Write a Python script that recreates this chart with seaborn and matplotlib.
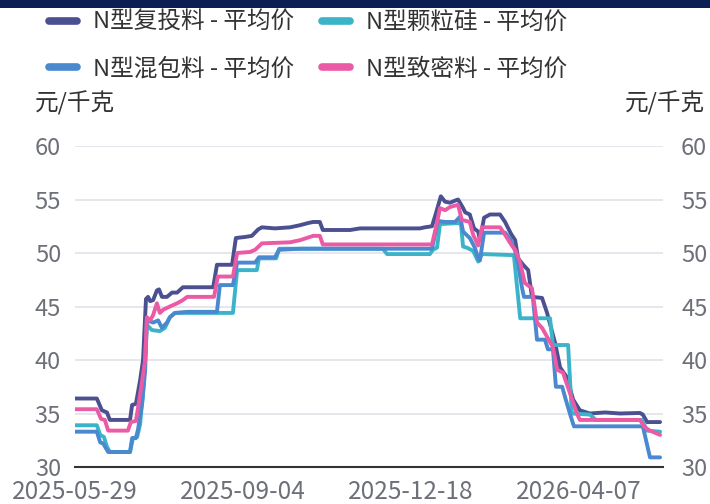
import matplotlib
matplotlib.use("Agg")
import matplotlib.pyplot as plt
from matplotlib.lines import Line2D
from matplotlib.patches import Rectangle
import seaborn as sns
import pandas as pd

# ---- data (x = trading-day index on a category axis) ----
series_names = ["N型复投料 - 平均价", "N型颗粒硅 - 平均价", "N型混包料 - 平均价", "N型致密料 - 平均价"]
colors = ["#4B5090", "#3BB4C9", "#4A88CF", "#EA5AA5"]

tick_labels = ["2025-05-29", "2025-09-04", "2025-12-18", "2026-04-07"]
tick_idx = [0, 40, 80, 120]
x_end = 140

futou_x = [0, 5.2, 6.4, 7.6, 8.3, 13.1, 13.6, 14.5, 15.5, 16.2, 16.9, 17.4, 17.9, 18.6, 19.5, 20.0,
           20.7, 21.9, 23.1, 24.3, 25.7, 32.9, 33.8, 37.4, 38.3, 40.5, 42.1, 43.6, 44.5, 47.6, 51.2,
           53.6, 55.5, 56.7, 58.3, 59.0, 65.5, 67.9, 82.1, 83.3, 85.0, 86.0, 87.1, 88.1, 89.3, 90.5,
           91.2, 92.4, 92.9, 94.0, 95.0, 96.0, 96.4, 97.4, 98.8, 101.2, 102.4, 103.8, 104.8, 105.5,
           106.7, 107.9, 108.8, 111.2, 112.4, 114.3, 115.5, 117.1, 118.6, 120.2, 122.6, 126.2, 129.8,
           134.5, 135.2, 136.2, 139.3]
futou_y = [36.4, 36.4, 35.3, 35.1, 34.4, 34.4, 35.8, 35.9, 38.1, 40.0, 45.7, 45.9, 45.5, 45.6, 46.5, 46.6,
           45.9, 45.9, 46.3, 46.3, 46.8, 46.8, 48.9, 48.9, 51.4, 51.5, 51.6, 52.2, 52.4, 52.3, 52.4,
           52.6, 52.8, 52.9, 52.9, 52.15, 52.15, 52.3, 52.3, 52.4, 52.5, 53.8, 55.3, 54.8, 54.7, 54.9,
           55.0, 54.2, 53.8, 53.6, 52.3, 52.0, 51.2, 53.3, 53.6, 53.6, 52.9, 51.8, 51.2, 49.5,
           48.9, 48.4, 45.9, 45.8, 44.4, 41.6, 39.3, 38.4, 36.3, 35.3, 35.0, 35.1, 35.0,
           35.05, 34.9, 34.2, 34.2]

keli_x = [0, 5.2, 6.0, 6.9, 7.6, 8.3, 13.1, 13.8, 14.8, 15.5, 16.2, 16.7, 17.1, 18.3, 20.2, 21.4, 22.6,
          23.8, 37.6, 38.6, 43.3, 43.8, 47.9, 48.6, 73.3, 74.3, 84.5, 85.2, 86.2, 86.9, 91.2, 91.9,
          92.4, 93.3, 94.8, 96.0, 96.9, 104.5, 106.0, 113.1, 113.8, 117.4, 118.3, 122.6, 124.0, 135.0,
          136.2, 139.3]
keli_y = [33.9, 33.9, 33.0, 32.8, 31.9, 31.4, 31.4, 32.7, 32.8, 34.0, 37.0, 40.0, 43.3, 42.8, 42.7, 43.0, 44.0,
          44.4, 44.4, 48.4, 48.4, 49.5, 49.5, 50.4, 50.4, 49.9, 49.9, 50.3, 50.5, 52.7, 52.8, 52.7,
          50.6, 50.5, 50.2, 49.2, 49.9, 49.8, 43.9, 43.9, 41.4, 41.4, 35.0, 34.9, 34.4, 34.4,
          33.4, 33.3]

hunbao_x = [0, 5.2, 6.0, 6.7, 7.9, 13.1, 13.6, 14.5, 15.0, 16.0, 16.7, 17.1, 18.6, 19.8, 20.7, 21.9, 22.6,
            23.8, 26.7, 33.8, 34.5, 37.6, 38.6, 42.9, 43.8, 47.6, 48.6, 53.6, 56.0, 85.0, 86.4, 88.1,
            90.5, 91.7, 92.4, 94.0, 95.2, 96.0, 96.4, 97.4, 102.4, 103.6, 104.8, 105.5, 106.4, 106.9,
            109.0, 110.0, 111.9, 112.6, 113.8, 114.5, 116.0, 116.7, 117.9, 118.8, 135.2, 136.9, 139.3]
hunbao_y = [33.3, 33.3, 32.3, 32.2, 31.4, 31.4, 32.7, 32.7, 33.5, 36.0, 39.0, 43.7, 43.5, 43.7, 43.0, 43.5, 44.0,
            44.4, 44.5, 44.5, 47.0, 47.0, 49.1, 49.1, 49.6, 49.6, 50.3, 50.4, 50.4, 50.4, 53.0, 52.9,
            52.9, 53.4, 52.0, 51.4, 50.5, 49.5, 49.3, 51.9, 51.9, 51.3, 50.2, 49.0, 46.8, 45.9,
            45.9, 41.9, 41.9, 41.0, 41.0, 37.5, 37.5, 36.5, 34.9, 33.8, 33.8, 30.9, 30.9]

zhimi_x = [0, 5.2, 6.2, 7.1, 7.9, 12.6, 13.3, 14.5, 15.0, 16.0, 16.7, 17.1, 17.9, 18.6, 19.5, 20.2, 21.0,
           22.6, 24.3, 25.7, 26.7, 33.1, 34.0, 37.6, 38.6, 41.7, 42.9, 44.5, 51.2, 53.6, 56.7, 58.3,
           59.0, 85.0, 86.0, 86.9, 88.1, 89.3, 91.2, 92.1, 94.0, 94.8, 96.0, 96.9, 101.2, 102.4,
           104.0, 104.8, 106.0, 107.1, 108.8, 110.0, 111.2, 113.8, 114.8, 116.2, 119.5, 120.2, 134.5,
           135.7, 136.9, 139.3]
zhimi_y = [35.4, 35.4, 34.5, 34.4, 33.4, 33.4, 34.2, 34.3, 35.5, 38.1, 40.0, 44.0, 43.7, 44.2, 45.3, 44.4, 44.7,
           45.0, 45.3, 45.6, 45.9, 45.9, 47.8, 47.8, 50.0, 50.1, 50.3, 50.9, 51.0, 51.2, 51.6, 51.6,
           50.8, 50.8, 52.5, 54.2, 54.0, 54.3, 54.5, 53.1, 52.9, 51.7, 50.7, 52.4, 52.4, 51.7,
           50.7, 50.3, 49.1, 47.2, 46.7, 43.5, 43.0, 41.2, 39.1, 38.8, 35.0, 34.4, 34.4,
           33.7, 33.4, 33.0]

frames = []
for name, xs, ys in zip(series_names,
                        [futou_x, keli_x, hunbao_x, zhimi_x],
                        [futou_y, keli_y, hunbao_y, zhimi_y]):
    frames.append(pd.DataFrame({"x": xs, "price": ys, "series": name}))
df = pd.concat(frames, ignore_index=True)

# ---- style ----
sns.set_theme(style="white")
plt.rcParams["font.family"] = ["Noto Sans CJK SC", "DejaVu Sans"]

fig = plt.figure(figsize=(7.1, 5.04), dpi=100)
fig.patch.set_facecolor("white")
fig.patches.append(Rectangle((0, 1 - 8 / 504), 1, 8 / 504, transform=fig.transFigure,
                             facecolor="#0B1F52", edgecolor="none", zorder=0))

ax = fig.add_axes([75 / 710, 37 / 504, 588 / 710, 321 / 504])
ax.set_facecolor("none")

sns.lineplot(data=df, x="x", y="price", hue="series", hue_order=series_names,
             palette=colors, estimator=None, sort=False, linewidth=2.8,
             legend=False, ax=ax)

ax.set_xlim(0, x_end)
ax.set_ylim(30, 60)
yt = [30, 35, 40, 45, 50, 55, 60]
ax.set_yticks(yt)
ax.set_yticklabels([str(v) for v in yt])
ax.set_xticks(tick_idx + [x_end])
ax.set_xticklabels(tick_labels + [""])
ax.set_xlabel("")
ax.set_ylabel("")

ax.grid(axis="y", color="#E0E3EA", linewidth=1.2)
ax.grid(axis="x", visible=False)
ax.set_axisbelow(True)
for s in ["top", "left", "right"]:
    ax.spines[s].set_visible(False)
ax.spines["bottom"].set_color("#333333")
ax.spines["bottom"].set_linewidth(1.5)

ax.tick_params(axis="x", direction="out", length=4, width=1.3, color="#333333",
               labelsize=17.5, labelcolor="#6E7079", pad=4.5)
ax.tick_params(axis="y", length=0, labelsize=17, labelcolor="#6E7079", pad=10)

ax2 = ax.twinx()
ax2.set_ylim(30, 60)
ax2.set_yticks(yt)
ax2.set_yticklabels([str(v) for v in yt])
ax2.tick_params(axis="y", length=0, labelsize=17, labelcolor="#6E7079", pad=13)
ax2.grid(False)
for s in ax2.spines.values():
    s.set_visible(False)

fig.text(35 / 710, 1 - 103 / 504, "元/千克", ha="left", va="center", fontsize=17, color="#333333")
fig.text(705 / 710, 1 - 103 / 504, "元/千克", ha="right", va="center", fontsize=17, color="#333333")

handles = [Line2D([0], [0], color=c, lw=5.5, solid_capstyle="round") for c in colors]
order = [0, 2, 1, 3]
fig.legend([handles[i] for i in order], [series_names[i] for i in order],
           loc="upper left", bbox_to_anchor=(49 / 710, 1 - 11 / 504), ncol=2, frameon=False,
           fontsize=17, labelcolor="#333333", handlelength=1.2, handletextpad=0.68,
           columnspacing=1.15, labelspacing=1.0, borderpad=0, borderaxespad=0)

fig.savefig("out.png", dpi=100)
